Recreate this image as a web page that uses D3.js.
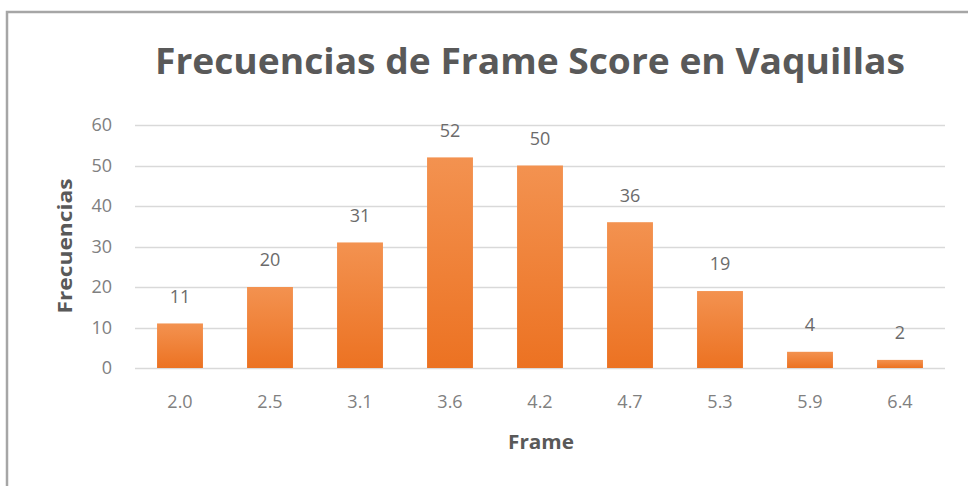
<!DOCTYPE html>
<html><head><meta charset="utf-8">
<script src="https://cdn.jsdelivr.net/npm/d3@7"></script>
<style>
html,body{margin:0;padding:0;background:#fff;}
svg{display:block;}
</style></head>
<body>
<svg id="chart" width="968" height="486"></svg>
<script>
const categories = ["2.0","2.5","3.1","3.6","4.2","4.7","5.3","5.9","6.4"];
const values = [11,20,31,52,50,36,19,4,2];
const yTicks = [0,10,20,30,40,50,60];
const title = "Frecuencias de Frame Score en Vaquillas";
const xTitle = "Frame";
const yTitle = "Frecuencias";

const svg = d3.select("#chart");
const W = 968, H = 486;
const m = {left:135, right:23, top:125, bottom:118};
const x = d3.scaleBand().domain(categories).range([m.left, W - m.right]).paddingInner(0.49).paddingOuter(0.245);
const y = d3.scaleLinear().domain([0,60]).range([H - m.bottom, m.top]);

const defs = svg.append("defs");
const g = defs.append("linearGradient").attr("id","barGrad").attr("x1",0).attr("y1",0).attr("x2",0).attr("y2",1);
g.append("stop").attr("offset","0%").attr("stop-color","#F39250");
g.append("stop").attr("offset","100%").attr("stop-color","#EC7222");

// border
svg.append("path").attr("d",`M7,${H+5}V12H${W+5}`).attr("fill","none").attr("stroke","#a6a6a6").attr("stroke-width",2.5);

// gridlines
svg.append("g").selectAll("line").data(yTicks).join("line")
  .attr("x1", m.left).attr("x2", W - m.right)
  .attr("y1", d => Math.round(y(d)) + 0.5).attr("y2", d => Math.round(y(d)) + 0.5)
  .attr("stroke", "#d9d9d9").attr("stroke-width", 1.5);

const tickFont = 18;
// y axis labels
const yAxis = d3.axisLeft(y).tickValues(yTicks).tickSize(0).tickPadding(0);
const ya = svg.append("g").attr("transform", `translate(112,0)`).call(yAxis);
ya.select(".domain").remove();
ya.selectAll("text").attr("font-family","Open Sans, sans-serif").attr("font-size",tickFont).attr("fill","#808080");

// x axis labels
const xAxis = d3.axisBottom(x).tickSize(0).tickPadding(0);
const xa = svg.append("g").attr("transform", `translate(0,${H - m.bottom + 34})`).call(xAxis);
xa.select(".domain").remove();
xa.selectAll("text").attr("font-family","Open Sans, sans-serif").attr("font-size",tickFont).attr("fill","#808080").attr("dy","0.35em");

// bars
svg.append("g").selectAll("rect").data(values).join("rect")
  .attr("x", (d,i) => x(categories[i]))
  .attr("width", x.bandwidth())
  .attr("y", d => y(d))
  .attr("height", d => y(0) - y(d))
  .attr("fill", "url(#barGrad)");

// data labels
svg.append("g").selectAll("text").data(values).join("text")
  .attr("x", (d,i) => x(categories[i]) + x.bandwidth()/2)
  .attr("y", d => y(d) - 27)
  .attr("dy","0.35em")
  .attr("text-anchor","middle")
  .attr("font-family","Open Sans, sans-serif").attr("font-size",tickFont).attr("fill","#6b6b6b")
  .text(d => d);

// title
svg.append("text").attr("x", 530).attr("y", 74).attr("text-anchor","middle")
  .attr("font-family","Open Sans, sans-serif").attr("font-weight","bold").attr("font-size",35)
  .attr("fill","#595959").attr("textLength",750).attr("lengthAdjust","spacingAndGlyphs")
  .text(title);

// x title
svg.append("text").attr("x", 541).attr("y", 442).attr("dy","0.35em").attr("text-anchor","middle")
  .attr("font-family","Open Sans, sans-serif").attr("font-weight","bold").attr("font-size",19)
  .attr("fill","#595959").attr("textLength",66).attr("lengthAdjust","spacingAndGlyphs").text(xTitle);

// y title
svg.append("text").attr("transform","translate(65,246) rotate(-90)").attr("dy","0.35em").attr("text-anchor","middle")
  .attr("font-family","Open Sans, sans-serif").attr("font-weight","bold").attr("font-size",19)
  .attr("fill","#595959").attr("textLength",135).attr("lengthAdjust","spacingAndGlyphs").text(yTitle);
</script>
</body></html>
